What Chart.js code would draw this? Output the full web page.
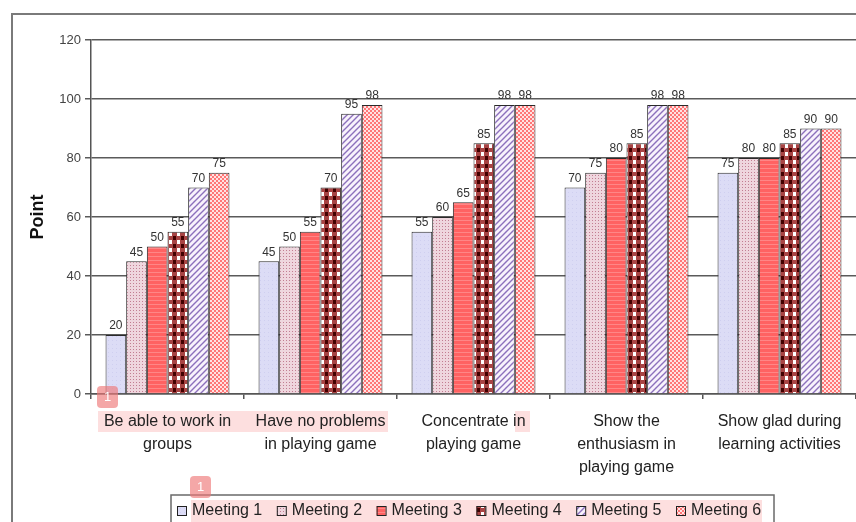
<!DOCTYPE html>
<html><head><meta charset="utf-8">
<script src="https://cdn.jsdelivr.net/npm/chart.js@4/dist/chart.umd.min.js"></script>
<style>
html,body{margin:0;padding:0;background:#fff;overflow:hidden;}
#wrap{position:relative;width:856px;height:522px;}
</style></head>
<body><div id="wrap"><canvas id="c" width="856" height="522"></canvas></div>
<script>
const categories = [
  ["Be able to work in","groups"],
  ["Have no problems","in playing game"],
  ["Concentrate in","playing game"],
  ["Show the","enthusiasm in","playing game"],
  ["Show glad during","learning activities"]
];
const seriesNames = ["Meeting 1","Meeting 2","Meeting 3","Meeting 4","Meeting 5","Meeting 6"];
const meeting1 = [20,45,55,70,75];
const meeting2 = [45,50,60,75,80];
const meeting3 = [50,55,65,80,80];
const meeting4 = [55,70,85,85,85];
const meeting5 = [70,95,98,98,90];
const meeting6 = [75,98,98,98,90];
const yMin = 0, yMax = 120, yStep = 20;
const yTitle = "Point";

const canvas = document.getElementById('c');
const ctx0 = canvas.getContext('2d');

function tile(w,h,draw){const c=document.createElement('canvas');c.width=w;c.height=h;const x=c.getContext('2d');draw(x);return ctx0.createPattern(c,'repeat');}
const patterns = [
  tile(4,4,x=>{x.fillStyle='#dcdcf6';x.fillRect(0,0,4,4);x.fillStyle='#cfcff0';x.fillRect(0,0,1,1);}),
  tile(3,3,x=>{x.fillStyle='#efd6de';x.fillRect(0,0,3,3);x.fillStyle='#c27e92';x.fillRect(1,1,1,1);}),
  tile(4,4,x=>{x.fillStyle='#ff6262';x.fillRect(0,0,4,4);x.fillStyle='#ff8686';x.fillRect(0,0,4,1);}),
  tile(8,8,x=>{x.fillStyle='#a84444';x.fillRect(0,0,8,8);x.fillStyle='#ffffff';x.fillRect(1,0,3,4);x.fillStyle='#420000';x.fillRect(5,4,3,4);}),
  tile(6,6,x=>{x.fillStyle='#f8f2fc';x.fillRect(0,0,6,6);x.strokeStyle='#8c70bc';x.lineWidth=1.4;x.beginPath();x.moveTo(-1,7);x.lineTo(7,-1);x.moveTo(-1,1);x.lineTo(1,-1);x.moveTo(5,7);x.lineTo(7,5);x.stroke();}),
  tile(4,4,x=>{x.fillStyle='#ffe2e2';x.fillRect(0,0,4,4);x.fillStyle='#ff7676';x.fillRect(0,0,2,2);x.fillRect(2,2,2,2);})
];
const seriesData = [meeting1,meeting2,meeting3,meeting4,meeting5,meeting6];

const FONT = "'Liberation Sans', Arial, sans-serif";

const decor = {
  id:'decor',
  beforeDraw(chart){
    const c=chart.ctx;
    c.save();
    c.fillStyle='#fff';c.fillRect(0,0,chart.width,chart.height);
    c.strokeStyle='#7a7a7a';c.lineWidth=2;
    c.beginPath();c.moveTo(12,530);c.lineTo(12,14);c.lineTo(870,14);c.stroke();
    c.fillStyle='rgba(250,185,185,0.45)';
    c.fillRect(98,411,290,21);
    c.fillRect(515,411,15,21);
    c.fillRect(191,500,571,22);
    c.restore();
  },
  afterDatasetsDraw(chart){
    const c=chart.ctx;
    c.save();
    c.font='12px '+FONT;c.fillStyle='#333';c.textAlign='center';c.textBaseline='middle';
    chart.data.datasets.forEach((ds,i)=>{
      const meta=chart.getDatasetMeta(i);
      meta.data.forEach((bar,j)=>{c.fillText(String(ds.data[j]),bar.x,bar.y-9);});
    });
    c.restore();
  },
  afterDraw(chart){
    const c=chart.ctx;
    c.save();
    const lx=171, ly=495;
    c.strokeStyle='#6a6a6a';c.lineWidth=1.5;
    c.strokeRect(lx,ly,603,40);
    c.font='16px '+FONT;c.textBaseline='middle';c.textAlign='left';
    chart.data.datasets.forEach((ds,i)=>{
      const sx=177+i*99.8, sy=506;
      c.fillStyle=ds.backgroundColor;c.fillRect(sx,sy,9,9);
      c.strokeStyle='#222';c.lineWidth=1;c.strokeRect(sx+0.5,sy+0.5,9,9);
      c.fillStyle='#222';c.fillText(ds.label,sx+15,511);
    });
    function badge(x,y){
      c.fillStyle='rgba(238,120,120,0.65)';
      c.beginPath();c.roundRect(x,y,21,22,4);c.fill();
      c.fillStyle='#fff';c.font='13px '+FONT;c.textAlign='center';c.textBaseline='middle';
      c.fillText('1',x+10.5,y+11.5);
    }
    badge(97,386);badge(190,476);
    c.restore();
  }
};

new Chart(canvas,{
  type:'bar',
  data:{
    labels:categories,
    datasets:seriesNames.map((n,i)=>({
      label:n,data:seriesData[i],backgroundColor:patterns[i],
      borderColor:'#2a2a2a',borderWidth:1,
      categoryPercentage:0.81,barPercentage:1.0
    }))
  },
  options:{
    responsive:false,animation:false,devicePixelRatio:1,
    layout:{padding:{left:23,top:40,right:0,bottom:0}},
    plugins:{legend:{display:false},tooltip:{enabled:false}},
    scales:{
      x:{
        afterFit(s){s.height=128;},
        grid:{display:true,drawOnChartArea:false,drawTicks:true,tickLength:5,color:'#555',lineWidth:1.5,offset:true},
        border:{display:true,color:'#555',width:1.5},
        ticks:{color:'#222',font:{family:FONT,size:16,lineHeight:1.44},padding:11,maxRotation:0,autoSkip:false}
      },
      y:{
        min:yMin,max:yMax,
        afterFit(s){s.width=68;},
        ticks:{stepSize:yStep,color:'#444',font:{family:FONT,size:13},padding:4},
        grid:{color:'#5a5a5a',lineWidth:1.5,tickLength:6,drawTicks:true},
        border:{display:true,color:'#555',width:1.5},
        title:{display:true,text:yTitle,color:'#111',font:{family:FONT,size:18,weight:'bold'},padding:{top:4,bottom:4}}
      }
    }
  },
  plugins:[decor]
});
</script></body></html>
